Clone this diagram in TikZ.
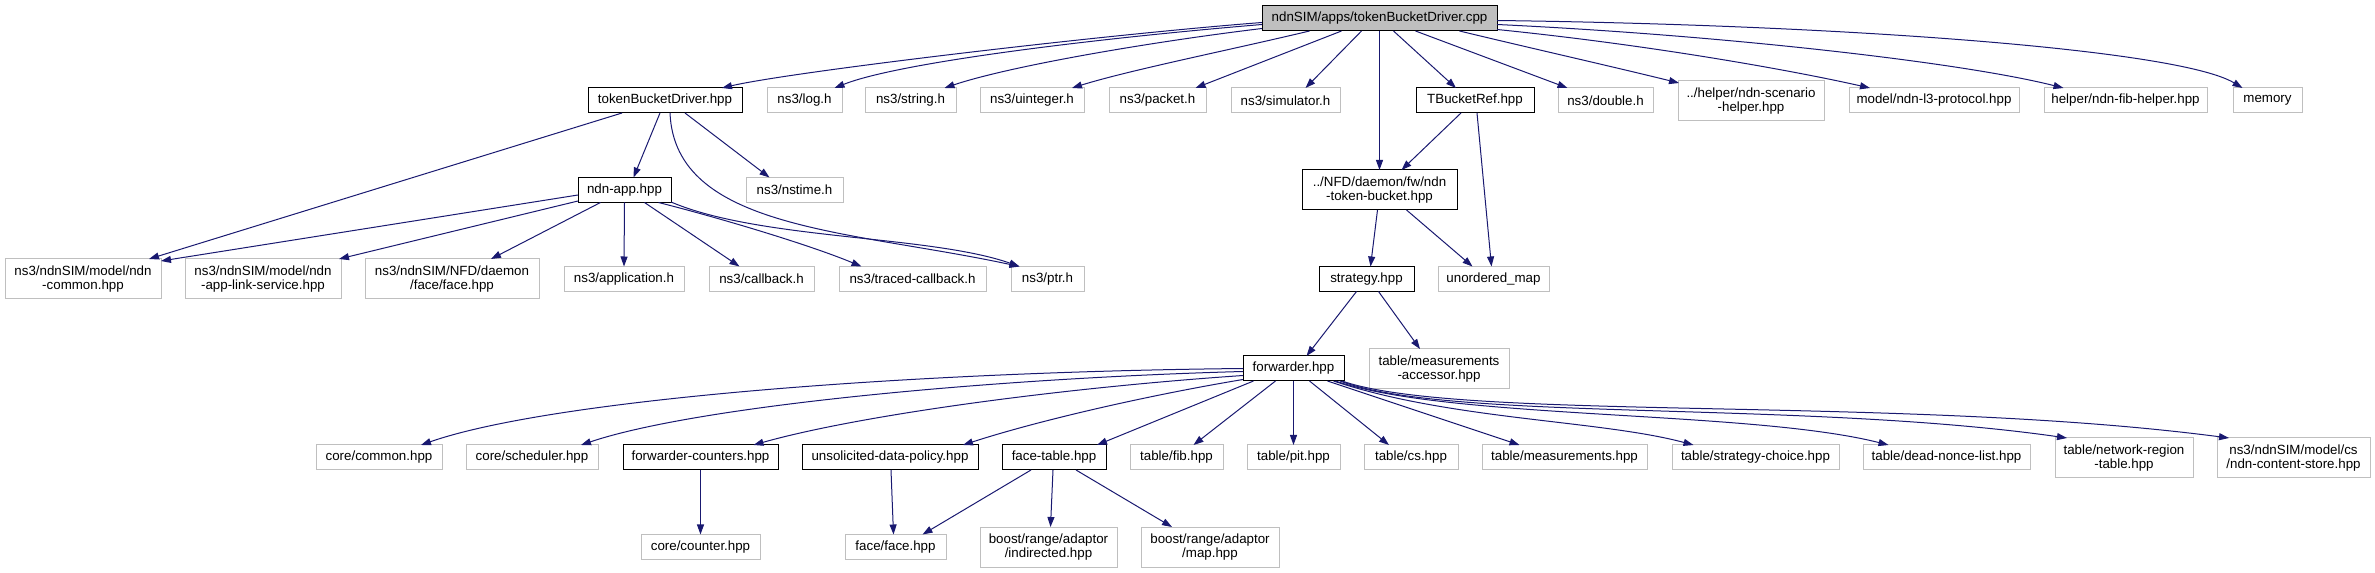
\documentclass[tikz,border=0pt]{standalone}
\usepackage{fontspec}
\setmainfont{Liberation Sans}
\usetikzlibrary{arrows.meta,calc}
\definecolor{edgeblue}{HTML}{191970}
\definecolor{lgray}{HTML}{BFBFBF}
\newcommand\bx[7]{\node[#1,minimum width={(#5-#3)*0.75pt},minimum height={(#6-#4)*0.75pt}] (#2) at ({(#3+#5)/2},{(#4+#6)/2}) {#7};}
\tikzset{
  basebox/.style={inner sep=0pt,outer sep=0pt,line width=0.75pt,align=center,font=\fontsize{10}{10.75}\selectfont},
  rootbox/.style={basebox,draw=black,fill=lgray},
  docbox/.style={basebox,draw=black,fill=white},
  extbox/.style={basebox,draw=lgray,fill=white},
  dep/.style={draw=edgeblue,line width=0.75pt,-{Triangle[length=7.5pt,width=5.25pt,fill=edgeblue]}}
}
\begin{document}
\begin{tikzpicture}[x=0.75pt,y=-0.75pt]
\useasboundingbox (0,0) rectangle (2375,573);
% nodes
\bx{rootbox}{r}{1262}{6}{1497}{31}{ndnSIM/apps/tokenBucketDriver.cpp}
\bx{docbox}{tbd}{588}{88}{742}{113}{tokenBucketDriver.hpp}
\bx{extbox}{log}{767}{88}{842}{113}{ns3/log.h}
\bx{extbox}{str}{865}{88}{956}{113}{ns3/string.h}
\bx{extbox}{uint}{980}{88}{1084}{113}{ns3/uinteger.h}
\bx{extbox}{pkt}{1109}{88}{1206}{113}{ns3/packet.h}
\bx{extbox}{sim}{1231}{88}{1340}{113}{ns3/simulator.h}
\bx{docbox}{tbr}{1416}{88}{1534}{113}{TBucketRef.hpp}
\bx{extbox}{dbl}{1558}{88}{1653}{113}{ns3/double.h}
\bx{extbox}{scen}{1678}{81}{1824}{121}{../helper/ndn-scenario\\-helper.hpp}
\bx{extbox}{lthree}{1849}{88}{2019}{113}{model/ndn-l3-protocol.hpp}
\bx{extbox}{fibh}{2044}{88}{2207}{113}{helper/ndn-fib-helper.hpp}
\bx{extbox}{mem}{2233}{88}{2302}{113}{memory}
\bx{docbox}{app}{578}{177.5}{671}{202.5}{ndn-app.hpp}
\bx{extbox}{nst}{746}{177.5}{843}{202.5}{ns3/nstime.h}
\bx{docbox}{ntb}{1302}{170}{1457}{210}{../NFD/daemon/fw/ndn\\-token-bucket.hpp}
\bx{extbox}{cmn}{5}{259}{161}{299}{ns3/ndnSIM/model/ndn\\-common.hpp}
\bx{extbox}{als}{185}{259}{341}{299}{ns3/ndnSIM/model/ndn\\-app-link-service.hpp}
\bx{extbox}{nface}{365}{259}{539}{299}{ns3/ndnSIM/NFD/daemon\\/face/face.hpp}
\bx{extbox}{appl}{564}{266.5}{684}{291.5}{ns3/application.h}
\bx{extbox}{cb}{709}{266.5}{814}{291.5}{ns3/callback.h}
\bx{extbox}{tcb}{839}{266.5}{986}{291.5}{ns3/traced-callback.h}
\bx{extbox}{ptr}{1011}{266.5}{1084}{291.5}{ns3/ptr.h}
\bx{docbox}{strat}{1319}{266.5}{1414}{291.5}{strategy.hpp}
\bx{extbox}{umap}{1438}{266.5}{1549}{291.5}{unordered\_map}
\bx{docbox}{fwd}{1243}{356}{1344}{381}{forwarder.hpp}
\bx{extbox}{macc}{1369}{349}{1509}{389}{table/measurements\\-accessor.hpp}
\bx{extbox}{ccommon}{316}{445}{442}{470}{core/common.hpp}
\bx{extbox}{csched}{466}{445}{598}{470}{core/scheduler.hpp}
\bx{docbox}{fcnt}{623}{445}{778}{470}{forwarder-counters.hpp}
\bx{docbox}{udp}{802}{445}{978}{470}{unsolicited-data-policy.hpp}
\bx{docbox}{ftab}{1002}{445}{1106}{470}{face-table.hpp}
\bx{extbox}{tfib}{1130}{445}{1223}{470}{table/fib.hpp}
\bx{extbox}{tpit}{1247}{445}{1340}{470}{table/pit.hpp}
\bx{extbox}{tcs}{1364}{445}{1458}{470}{table/cs.hpp}
\bx{extbox}{tmeas}{1482}{445}{1647}{470}{table/measurements.hpp}
\bx{extbox}{tsc}{1672}{445}{1839}{470}{table/strategy-choice.hpp}
\bx{extbox}{dnl}{1863}{445}{2030}{470}{table/dead-nonce-list.hpp}
\bx{extbox}{nrt}{2055}{438}{2193}{478}{table/network-region\\-table.hpp}
\bx{extbox}{ncs}{2217}{438}{2370}{478}{ns3/ndnSIM/model/cs\\/ndn-content-store.hpp}
\bx{extbox}{ccnt}{641}{534.5}{760}{559.5}{core/counter.hpp}
\bx{extbox}{ff}{845}{534.5}{946}{559.5}{face/face.hpp}
\bx{extbox}{ind}{980}{527}{1117}{567}{boost/range/adaptor\\/indirected.hpp}
\bx{extbox}{map}{1141}{527}{1279}{567}{boost/range/adaptor\\/map.hpp}
% edges from root
\draw[dep] ($(r.west)+(0,4)$) .. controls (1100,35) and (790,72) .. ($(tbd.north)+(57,0)$);
\draw[dep] ($(r.west)+(0,6)$) .. controls (1100,38) and (900,62) .. ($(log.north)+(30,0)$);
\draw[dep] ($(r.west)+(0,10)$) .. controls (1150,42) and (1010,66) .. ($(str.north)+(34,0)$);
\draw[dep] ($(r.south)+(-70,0)$) .. controls (1230,50) and (1130,70) .. ($(uint.north)+(40,0)$);
\draw[dep] ($(r.south)+(-38,0)$) -- ($(pkt.north)+(38,0)$);
\draw[dep] ($(r.south)+(-18,0)$) -- ($(sim.north)+(20,0)$);
\draw[dep] (r.south) -- (ntb.north);
\draw[dep] ($(r.south)+(14,0)$) -- ($(tbr.north)+(-19,0)$);
\draw[dep] ($(r.south)+(36,0)$) -- ($(dbl.north)+(-38,0)$);
\draw[dep] ($(r.south)+(80,0)$) .. controls (1530,48) and (1610,66) .. ($(scen.north west)+(1,2)$);
\draw[dep] ($(r.east)+(0,11)$) .. controls (1650,45) and (1790,70) .. ($(lthree.north)+(-64,0)$);
\draw[dep] ($(r.east)+(0,6)$) .. controls (1720,35) and (1960,62) .. ($(fibh.north)+(-62,0)$);
\draw[dep] ($(r.east)+(0,2)$) .. controls (1850,25) and (2180,50) .. ($(mem.north)+(-25,0)$);
% tokenBucketDriver.hpp
\draw[dep] ($(tbd.south)+(-43,0)$) -- ($(cmn.north)+(66,0)$);
\draw[dep] ($(tbd.south)+(-5,0)$) -- ($(app.north)+(9,0)$);
\draw[dep] ($(tbd.south)+(20,0)$) -- ($(nst.north)+(-25,0)$);
\draw[dep] ($(tbd.south)+(5,0)$) .. controls (675,230) and (850,230) .. ($(ptr.north)+(-28,0)$);
% ndn-app.hpp
\draw[dep] ($(app.west)+(0,5)$) -- ($(cmn.east)+(0,-18)$);
\draw[dep] ($(app.west)+(0,11)$) -- ($(als.north)+(76,0)$);
\draw[dep] ($(app.south)+(-24,0)$) -- ($(nface.north)+(39,0)$);
\draw[dep] (app.south) -- (appl.north);
\draw[dep] ($(app.south)+(20,0)$) -- ($(cb.north)+(-22,0)$);
\draw[dep] ($(app.south)+(34,0)$) .. controls (720,218) and (810,245) .. ($(tcb.north)+(-51,0)$);
\draw[dep] ($(app.east)+(0,12)$) .. controls (760,240) and (930,235) .. ($(ptr.north)+(-28,0)$);
% TBucketRef
\draw[dep] ($(tbr.south)+(-14,0)$) -- ($(ntb.north)+(22,0)$);
\draw[dep] ($(tbr.south)+(2,0)$) -- ($(umap.north)+(-2,0)$);
% ndn-token-bucket
\draw[dep] ($(ntb.south)+(-2,0)$) -- ($(strat.north)+(4,0)$);
\draw[dep] ($(ntb.south)+(27,0)$) -- ($(umap.north)+(-21,0)$);
% strategy
\draw[dep] ($(strat.south)+(-10,0)$) -- ($(fwd.north)+(13,0)$);
\draw[dep] ($(strat.south)+(12,0)$) -- ($(macc.north)+(-19,0)$);
% forwarder
\draw[dep] (fwd.west) .. controls (900,372) and (550,400) .. ($(ccommon.north)+(42,0)$);
\draw[dep] ($(fwd.west)+(0,3)$) .. controls (1000,378) and (700,405) .. ($(csched.north)+(49,0)$);
\draw[dep] ($(fwd.west)+(0,7)$) .. controls (1060,388) and (860,415) .. ($(fcnt.north)+(53,0)$);
\draw[dep] ($(fwd.west)+(0,11)$) .. controls (1150,395) and (1040,420) .. ($(udp.north)+(73,0)$);
\draw[dep] ($(fwd.south)+(-40,0)$) -- ($(ftab.north)+(43,0)$);
\draw[dep] ($(fwd.south)+(-18,0)$) -- ($(tfib.north)+(17,0)$);
\draw[dep] (fwd.south) -- (tpit.north);
\draw[dep] ($(fwd.south)+(16,0)$) -- ($(tcs.north)+(-22,0)$);
\draw[dep] ($(fwd.south)+(34,0)$) -- ($(tmeas.north)+(-45,0)$);
\draw[dep] ($(fwd.south)+(40,0)$) .. controls (1450,420) and (1600,420) .. ($(tsc.north)+(-62,0)$);
\draw[dep] ($(fwd.south)+(42,0)$) .. controls (1450,420) and (1750,410) .. ($(dnl.north)+(-58,0)$);
\draw[dep] ($(fwd.south east)+(-4,0)$) .. controls (1450,422) and (1800,400) .. ($(nrt.north west)+(12,0)$);
\draw[dep] ($(fwd.south east)+(-2,0)$) .. controls (1460,422) and (1900,395) .. ($(ncs.north west)+(12,0)$);
% lower level
\draw[dep] (fcnt.south) -- (ccnt.north);
\draw[dep] ($(udp.south)+(1,0)$) -- ($(ff.north)+(-2,0)$);
\draw[dep] ($(ftab.south)+(-23,0)$) -- ($(ff.north)+(27,0)$);
\draw[dep] ($(ftab.south)+(-1,0)$) -- ($(ind.north)+(2,0)$);
\draw[dep] ($(ftab.south)+(22,0)$) -- ($(map.north)+(-38,0)$);
\end{tikzpicture}
\end{document}
